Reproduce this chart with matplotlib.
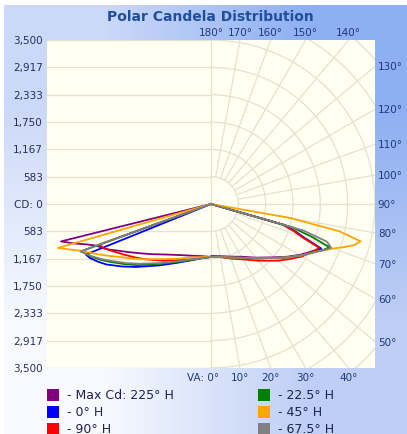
import numpy as np
import matplotlib
matplotlib.use('Agg')
import matplotlib.pyplot as plt
from matplotlib.patches import Rectangle

# vertical angles (deg) and candela values, left / right half of each plane
va = [0, 10, 20, 30, 40, 50, 55, 60, 63, 66, 68, 70, 72, 74, 76, 78, 80, 85, 90]

series_names = ['- Max Cd: 225\u00b0 H', '- 0\u00b0 H', '- 90\u00b0 H',
                '- 22.5\u00b0 H', '- 45\u00b0 H', '- 67.5\u00b0 H']
series_colors = ['#800080', '#0000ff', '#ff0000', '#008000', '#ffa500', '#808080']

purple_l = [1130, 1130, 1175, 1260, 1410, 1665, 1835, 2050, 2200, 2390, 2500, 2600, 2790, 3050, 3300, 0, 0, 0, 0]
purple_r = [1110, 1130, 1195, 1300, 1495, 1770, 1965, 2175, 2300, 2430, 2510, 2090, 1850, 1600, 0, 0, 0, 0, 0]
blue_l = [1130, 1175, 1280, 1450, 1710, 2090, 2325, 2580, 2710, 2830, 2880, 0, 0, 0, 0, 0, 0, 0, 0]
blue_r = [1130, 1150, 1215, 1325, 1515, 1790, 1985, 2200, 2330, 2460, 2540, 2135, 1900, 1640, 0, 0, 0, 0, 0]
red_l = [1130, 1175, 1260, 1385, 1580, 1835, 1985, 2155, 2270, 2400, 2490, 2530, 0, 0, 0, 0, 0, 0, 0]
red_r = [1130, 1150, 1240, 1365, 1580, 1880, 2050, 2240, 2330, 2440, 2490, 2090, 1850, 1590, 0, 0, 0, 0, 0]
green_l = [1130, 1175, 1280, 1430, 1665, 2030, 2240, 2475, 2630, 2780, 2860, 2925, 0, 0, 0, 0, 0, 0, 0]
green_r = [1130, 1150, 1215, 1325, 1515, 1790, 1985, 2200, 2340, 2480, 2600, 2690, 2250, 1800, 0, 0, 0, 0, 0]
orange_l = [1130, 1150, 1215, 1345, 1535, 1835, 2030, 2260, 2440, 2640, 2780, 2925, 3150, 3400, 0, 0, 0, 0, 0]
orange_r = [1130, 1150, 1215, 1325, 1515, 1790, 1985, 2200, 2340, 2490, 2620, 2775, 2980, 3180, 3290, 2800, 1710, 0, 0]
gray_l = [1130, 1175, 1260, 1410, 1645, 1985, 2200, 2435, 2600, 2760, 2860, 2965, 0, 0, 0, 0, 0, 0, 0]
gray_r = [1130, 1150, 1215, 1325, 1515, 1790, 1985, 2200, 2340, 2490, 2620, 2730, 2600, 2050, 0, 0, 0, 0, 0]

lefts = [purple_l, blue_l, red_l, green_l, orange_l, gray_l]
rights = [purple_r, blue_r, red_r, green_r, orange_r, gray_r]

cd_max = 3500
cd_step = 583
cd_ticks = ['3,500', '2,917', '2,333', '1,750', '1,167', '583', 'CD: 0',
            '583', '1,167', '1,750', '2,333', '2,917', '3,500']

grid_col = '#e4e1cf'
lab_col = '#1e3a7a'

fig = plt.figure(figsize=(4.07, 4.35), dpi=100)

# background gradient panel
bg = fig.add_axes([4 / 407, 0, 403 / 407, 429 / 435], zorder=-10)
grad = np.array([[[0.80, 0.85, 0.97], [0.56, 0.69, 0.95]],
                 [[0.97, 0.98, 1.00], [0.75, 0.81, 0.96]]])
bg.imshow(grad, aspect='auto', interpolation='bilinear', extent=[0, 1, 0, 1])
bg.set_axis_off()

ax = fig.add_axes([47 / 407, 1 - 369 / 435, 328 / 407, 328 / 435])
ax.set_facecolor('#fffff2')
ax.set_xlim(-cd_max, cd_max)
ax.set_ylim(-cd_max, cd_max)
for s in ax.spines.values():
    s.set_visible(False)
ax.set_xticks([])
ax.set_yticks([])

# left half: horizontal grid
for k in range(-6, 7):
    ax.plot([-cd_max, 0], [k * cd_step, k * cd_step], color=grid_col, lw=0.9, zorder=1)
ax.plot([0, 0], [-cd_max, cd_max], color=grid_col, lw=0.9, zorder=1)

# right half: polar grid
t = np.linspace(0, np.pi, 200)
for k in range(1, 9):
    r = k * cd_step
    ax.plot(r * np.sin(t), -r * np.cos(t), color=grid_col, lw=0.9, zorder=1)
for a in range(10, 180, 10):
    th = np.radians(a)
    ax.plot([cd_step * np.sin(th), 6000 * np.sin(th)],
            [-cd_step * np.cos(th), -6000 * np.cos(th)], color=grid_col, lw=0.9, zorder=1)

# curves
for lft, rgt, col in zip(lefts, rights, series_colors):
    a_l = np.radians(va[::-1])
    i_l = np.array(lft[::-1])
    a_r = np.radians(va)
    i_r = np.array(rgt)
    x = np.concatenate([-i_l * np.sin(a_l), i_r * np.sin(a_r)])
    y = np.concatenate([-i_l * np.cos(a_l), -i_r * np.cos(a_r)])
    ax.plot(x, y, color=col, lw=1.3, zorder=3, solid_joinstyle='round')

# cd labels on the left
for k, txt in enumerate(cd_ticks):
    ax.text(-cd_max - 90, cd_max - k * cd_max / 6, txt, ha='right', va='center',
            fontsize=7.5, color='#24305a')

# angle labels where spokes meet the frame
for a in range(180, 130, -10):
    xv = cd_max * np.tan(np.pi - np.radians(a))
    ax.text(xv, cd_max + 60, f'{a}\u00b0', ha='center', va='bottom', fontsize=7.5, color=lab_col)
for a in range(130, 40, -10):
    yv = -cd_max / np.tan(np.radians(a))
    ax.text(cd_max + 60, yv, f'{a}\u00b0', ha='left', va='center', fontsize=7.5, color=lab_col)
for a in range(0, 50, 10):
    xv = cd_max * np.tan(np.radians(a))
    if a == 0:
        ax.text(xv + 180, -cd_max - 80, 'VA: 0\u00b0', ha='right', va='top', fontsize=7.5, color=lab_col)
    else:
        ax.text(xv, -cd_max - 80, f'{a}\u00b0', ha='center', va='top', fontsize=7.5, color=lab_col)

fig.text(210 / 407, 1 - 17 / 435, 'Polar Candela Distribution', ha='center', va='center',
         fontsize=10, fontweight='bold', color='#1f4f9c')

# legend
for i, (name, col) in enumerate(zip(series_names, series_colors)):
    colx = 47 if i < 3 else 258
    rowy = 396 + 17 * (i % 3)
    fig.patches.append(Rectangle((colx / 407, 1 - (rowy + 6) / 435), 12 / 407, 12 / 435,
                                 transform=fig.transFigure, facecolor=col, edgecolor='none'))
    fig.text((colx + 20) / 407, 1 - rowy / 435, name, ha='left', va='center',
             fontsize=9, color='#1a2450')

fig.savefig('out.png', dpi=100)
